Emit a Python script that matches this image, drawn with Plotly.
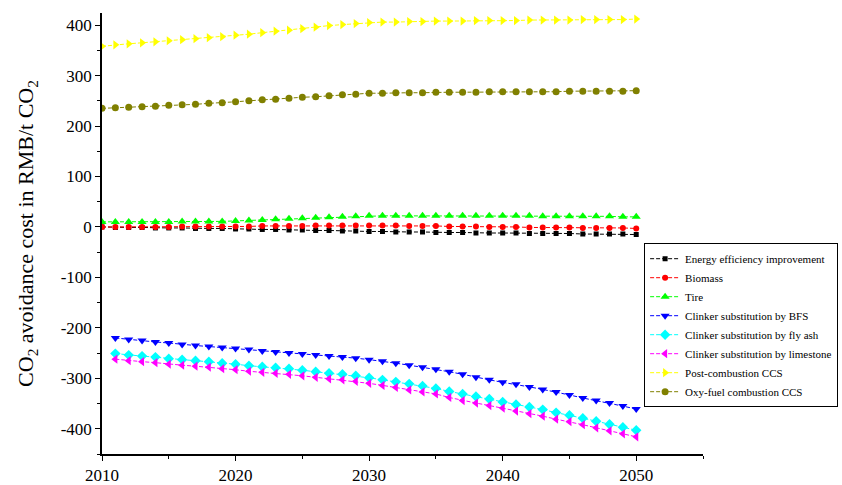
import plotly.graph_objects as go

years_a = list(range(2010, 2051))
years_b = list(range(2011, 2051))

energy_eff = [0, -1, -1, -1, -2, -2, -2, -3, -3, -3,
              -4, -4, -5, -5, -6, -6, -7, -7, -8, -8,
              -9, -9, -10, -10, -10, -11, -11, -11, -12, -12,
              -12, -12, -13, -13, -13, -13, -14, -14, -14, -14, -15]
biomass = [0, 0, 0, 0, 0, 0, 1, 1, 1, 1,
           1, 1, 2, 2, 2, 2, 3, 3, 3, 3,
           3, 3, 3, 2, 2, 2, 1, 1, 1, 0,
           0, 0, -1, -1, -1, -1, -2, -2, -2, -2, -3]
tire = [10, 10, 10, 10, 10, 10, 11, 11, 11, 11,
        12, 13, 14, 15, 16, 17, 18, 19, 20, 21,
        22, 22, 22, 22, 22, 22, 22, 22, 22, 22,
        22, 22, 22, 21, 21, 21, 21, 21, 21, 20, 20]
bfs = [-220, -223, -225, -228, -230, -233, -235, -237, -239,
       -241, -243, -246, -248, -250, -252, -254, -256, -258, -260,
       -263, -266, -270, -274, -278, -282, -287, -292, -298, -303,
       -308, -312, -317, -322, -327, -333, -339, -344, -349, -355, -361]
fly_ash = [-251, -254, -256, -258, -261, -263, -265, -267, -270,
           -272, -275, -277, -279, -281, -284, -287, -290, -292, -295,
           -299, -303, -307, -311, -315, -320, -326, -331, -336, -341,
           -347, -352, -357, -362, -368, -373, -379, -385, -391, -397, -403]
limestone = [-262, -265, -267, -269, -272, -274, -276, -278, -281,
             -283, -286, -288, -290, -292, -295, -298, -301, -303, -306,
             -310, -314, -318, -323, -327, -331, -338, -344, -349, -354,
             -359, -365, -370, -375, -381, -386, -392, -398, -404, -410, -416]
post_ccs = [358, 361, 363, 365, 367, 369, 371, 373, 375, 377,
            380, 382, 385, 388, 390, 393, 396, 399, 401, 403,
            405, 406, 406, 407, 407, 408, 408, 408, 409, 409,
            409, 409, 410, 410, 410, 410, 411, 411, 411, 411, 412]
oxy_ccs = [235, 236, 237, 238, 239, 241, 242, 243, 245, 246,
           248, 250, 252, 253, 255, 257, 258, 260, 262, 263,
           265, 265, 266, 266, 266, 267, 267, 267, 267, 268,
           268, 268, 268, 268, 268, 269, 269, 269, 269, 269, 270]

x_ticks = [2010, 2020, 2030, 2040, 2050]
x_tick_text = ["2010", "2020", "2030", "2040", "2050"]
y_ticks = [-400, -300, -200, -100, 0, 100, 200, 300, 400]
y_tick_text = ["-400", "-300", "-200", "-100", "0", "100", "200", "300", "400"]

series = [
    ("Energy efficiency improvement", years_a, energy_eff, "#000000", "square", 5),
    ("Biomass", years_a, biomass, "#ff0000", "circle", 6),
    ("Tire", years_a, tire, "#00ff00", "triangle-up", 8),
    ("Clinker substitution by BFS", years_b, bfs, "#0000ff", "triangle-down", 8),
    ("Clinker substitution by fly ash", years_b, fly_ash, "#00ffff", "diamond", 8),
    ("Clinker substitution by limestone", years_b, limestone, "#ff00ff", "triangle-left", 8),
    ("Post-combustion CCS", years_a, post_ccs, "#ffff00", "triangle-right", 8),
    ("Oxy-fuel combustion CCS", years_a, oxy_ccs, "#808000", "circle", 7),
]

FONT = "Times New Roman, Liberation Serif, serif"

fig = go.Figure()
for name, xs, ys, col, sym, sz in series:
    fig.add_trace(go.Scatter(
        x=xs, y=ys, name=name, mode="lines+markers",
        line=dict(color=col, width=1, dash="4px,2px"),
        marker=dict(color=col, symbol=sym, size=sz, line=dict(width=0)),
    ))

fig.update_layout(
    width=842, height=485,
    margin=dict(l=102, r=139, t=13, b=31, autoexpand=False),
    paper_bgcolor="white", plot_bgcolor="white",
    font=dict(family=FONT, color="black"),
    showlegend=True,
    legend=dict(
        x=0.902, y=0.478, xanchor="left", yanchor="top",
        bordercolor="black", borderwidth=1, bgcolor="white",
        font=dict(size=11, family=FONT, color="black"),
        tracegroupgap=0,
    ),
    xaxis=dict(
        range=[2010, 2055], showgrid=False, zeroline=False, automargin=False,
        showline=True, linecolor="black", linewidth=1.5,
        tickmode="array", tickvals=x_ticks, ticktext=x_tick_text,
        ticks="outside", ticklen=5, tickwidth=1.3, tickcolor="black",
        minor=dict(tickvals=[2015, 2025, 2035, 2045, 2055], ticks="outside",
                   ticklen=3, tickwidth=1.3, tickcolor="black"),
        tickfont=dict(size=17, family=FONT, color="black"),
    ),
    yaxis=dict(
        range=[-450, 424], showgrid=False, zeroline=False, automargin=False,
        showline=True, linecolor="black", linewidth=1.5,
        tickmode="array", tickvals=y_ticks, ticktext=y_tick_text,
        ticks="outside", ticklen=5, tickwidth=1.3, tickcolor="black",
        minor=dict(tickvals=[-450, -350, -250, -150, -50, 50, 150, 250, 350],
                   ticks="outside", ticklen=3, tickwidth=1.3, tickcolor="black"),
        tickfont=dict(size=17, family=FONT, color="black"),
        title=dict(text="CO<sub>2</sub> avoidance cost in RMB/t CO<sub>2</sub>",
                   font=dict(size=22, family=FONT, color="black"), standoff=21),
    ),
)

fig.write_html("out.html", config={"displayModeBar": False},
               post_script="document.body.style.margin='0';document.body.style.overflow='hidden';")
